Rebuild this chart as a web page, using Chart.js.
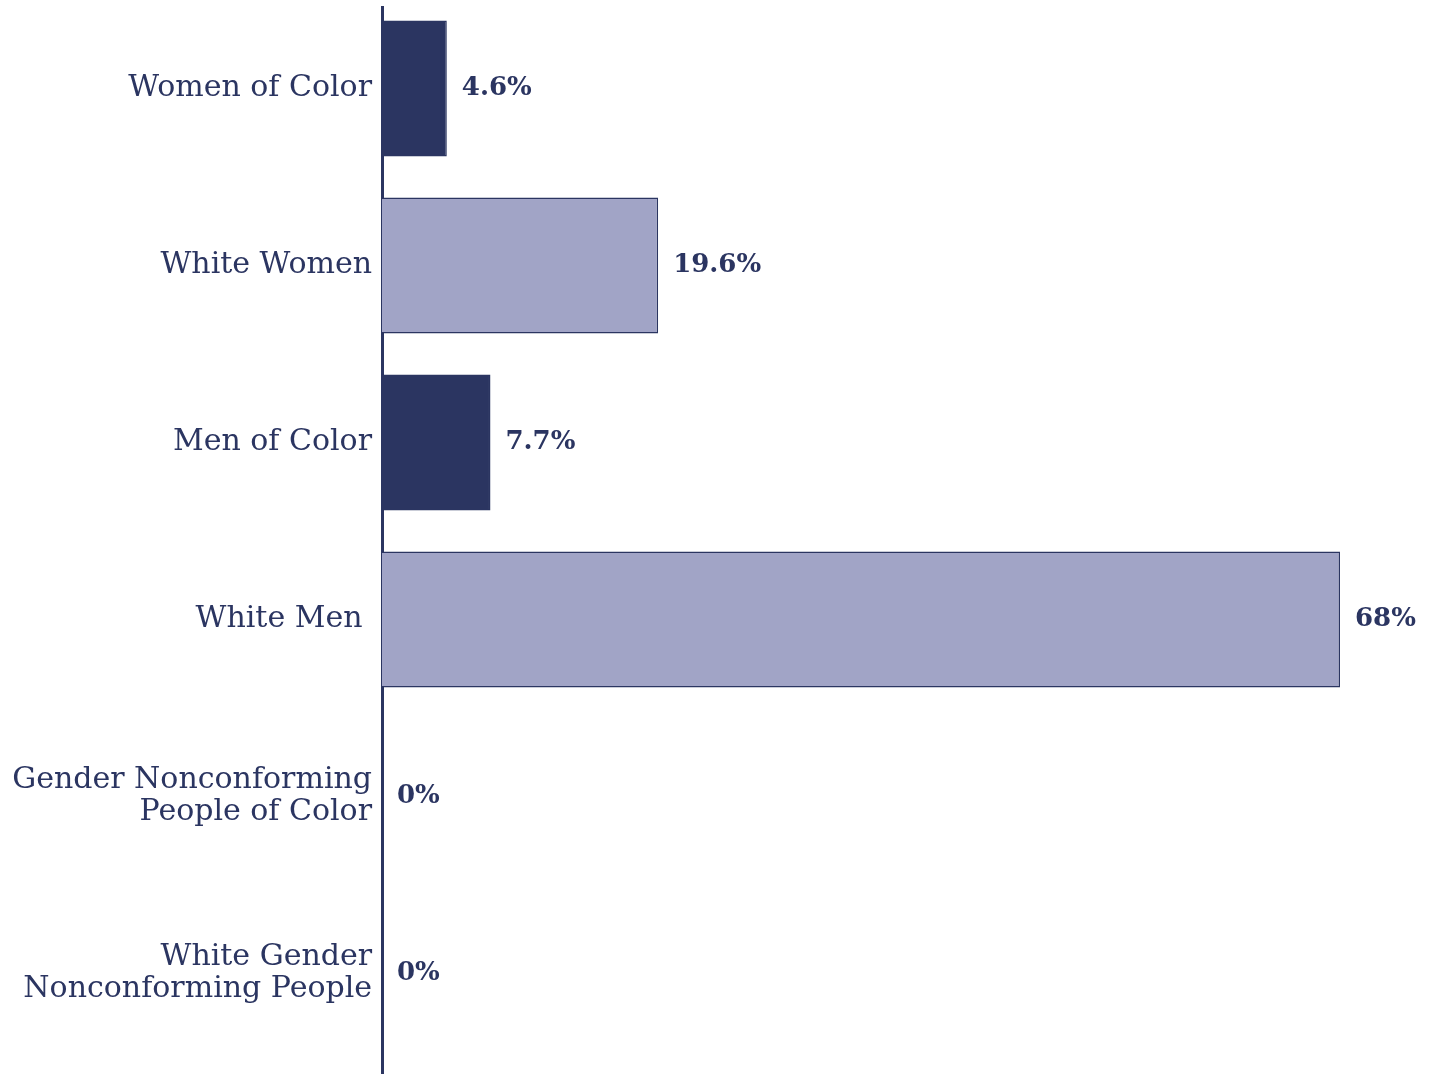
<!DOCTYPE html>
<html>
<head>
<meta charset="utf-8">
<script src="https://cdn.jsdelivr.net/npm/chart.js@4/dist/chart.umd.min.js"></script>
<style>
html,body{margin:0;padding:0;background:#fff;}
#wrap{width:1437px;height:1074px;}
</style>
</head>
<body>
<div id="wrap"><canvas id="c" width="1437" height="1074"></canvas></div>
<script>
const categories = [
  "Women of Color",
  "White Women",
  "Men of Color",
  "White Men ",
  ["Gender Nonconforming", "People of Color"],
  ["White Gender", "Nonconforming People"]
];
const values = [4.6, 19.6, 7.7, 68, 0, 0];
const barColors = ["#2b3561", "#a1a4c6", "#2b3561", "#a1a4c6", "#2b3561", "#a1a4c6"];
const xMax = 68;

const NAVY = "#2b3561";
const LABEL_FONT = "'DejaVu Serif', 'Liberation Serif', serif";

const axisLine = {
  id: 'axisLine',
  beforeDatasetsDraw(chart) {
    const {ctx, chartArea} = chart;
    ctx.save();
    ctx.strokeStyle = NAVY;
    ctx.lineWidth = 3;
    ctx.beginPath();
    ctx.moveTo(chartArea.left + 0.5, chartArea.top + 6);
    ctx.lineTo(chartArea.left + 0.5, chart.height);
    ctx.stroke();
    ctx.restore();
  }
};

const valueLabels = {
  id: 'valueLabels',
  afterDatasetsDraw(chart) {
    const {ctx} = chart;
    const meta = chart.getDatasetMeta(0);
    ctx.save();
    ctx.fillStyle = NAVY;
    ctx.font = "bold 26px " + LABEL_FONT;
    ctx.textAlign = 'left';
    ctx.textBaseline = 'middle';
    meta.data.forEach((bar, i) => {
      ctx.fillText(values[i] + '%', bar.x + 15, bar.y);
    });
    ctx.restore();
  }
};

new Chart(document.getElementById('c'), {
  type: 'bar',
  data: {
    labels: categories,
    datasets: [{
      data: values,
      backgroundColor: barColors,
      borderColor: NAVY,
      borderWidth: 1.5,
      borderSkipped: 'start',
      categoryPercentage: 1,
      barPercentage: 0.768
    }]
  },
  options: {
    indexAxis: 'y',
    responsive: false,
    animation: false,
    layout: { padding: { left: 0, right: 97, top: 0, bottom: 12 } },
    plugins: { legend: { display: false }, tooltip: { enabled: false } },
    scales: {
      x: { display: false, min: 0, max: xMax },
      y: {
        grid: { display: false, drawTicks: false },
        border: { display: false },
        ticks: {
          color: NAVY,
          padding: 10,
          font: { family: LABEL_FONT, size: 30, lineHeight: 1.07 }
        },
        afterFit(scale) {
          scale.width = 382;
          scale.paddingTop = 0;
          scale.paddingBottom = 0;
        }
      }
    }
  },
  plugins: [axisLine, valueLabels]
});
</script>
</body>
</html>
